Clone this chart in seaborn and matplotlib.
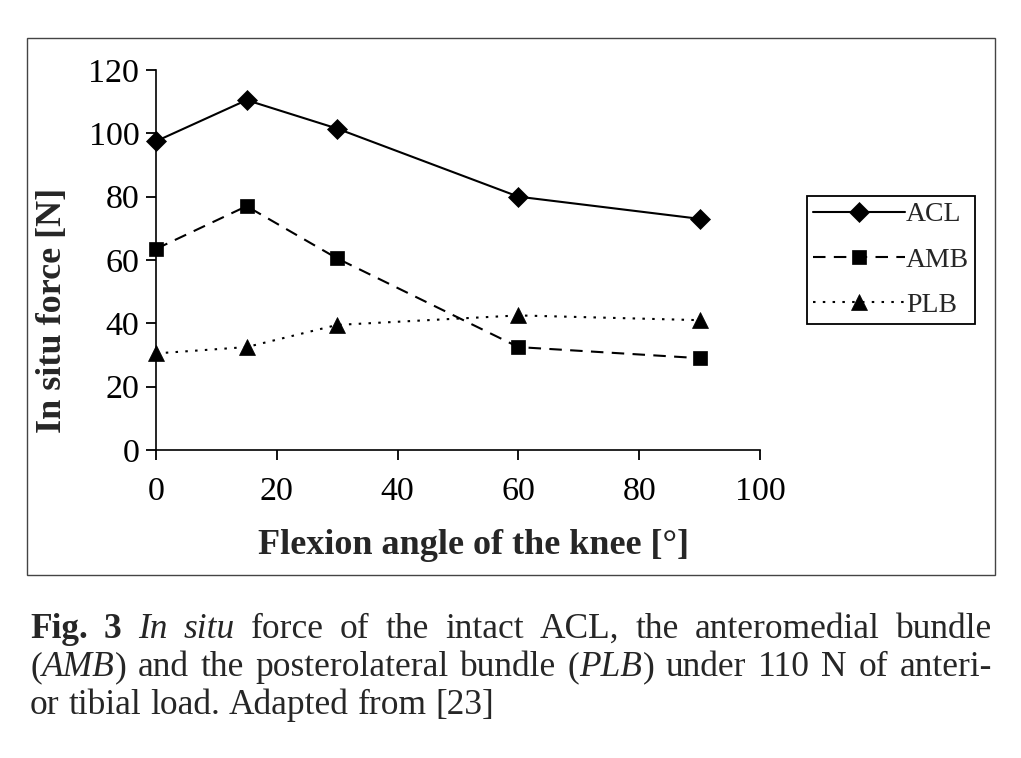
import numpy as np
import pandas as pd
import matplotlib
matplotlib.use("Agg")
import matplotlib.pyplot as plt
import seaborn as sns
from matplotlib.patches import Rectangle

# valeurs
angles = [0, 15, 30, 60, 90]
acl_force = [97.5, 110.5, 101.5, 80, 73]
amb_force = [63.5, 77, 60.5, 32.5, 29]
plb_force = [30.5, 32.5, 39.5, 42.5, 41]

bundles = ["ACL", "AMB", "PLB"]
y_ticks = [0, 20, 40, 60, 80, 100, 120]
x_ticks = [0, 20, 40, 60, 80, 100]

caption_lines = [
    [[("Fig.", "bold")], [("3", "bold")], [("In", "italic")], [("situ", "italic")],
     [("force", "normal")], [("of", "normal")], [("the", "normal")], [("intact", "normal")],
     [("ACL,", "normal")], [("the", "normal")], [("anteromedial", "normal")], [("bundle", "normal")]],
    [[("(", "normal"), ("AMB", "italic"), (")", "normal")], [("and", "normal")], [("the", "normal")],
     [("posterolateral", "normal")], [("bundle", "normal")],
     [("(", "normal"), ("PLB", "italic"), (")", "normal")], [("under", "normal")], [("110", "normal")],
     [("N", "normal")], [("of", "normal")], [("anteri-", "normal")]],
    [[("or", "normal")], [("tibial", "normal")], [("load.", "normal")], [("Adapted", "normal")],
     [("from", "normal")], [("[23]", "normal")]],
]

df = pd.DataFrame({
    "angle": angles * 3,
    "force": acl_force + amb_force + plb_force,
    "bundle": np.repeat(bundles, len(angles)),
})

sns.set_style("ticks")
plt.rcParams["font.family"] = ["Liberation Serif", "DejaVu Serif"]
plt.rcParams["axes.edgecolor"] = "black"
plt.rcParams["axes.linewidth"] = 1.2

W, H = 1021, 758
fig = plt.figure(figsize=(W / 100, H / 100), dpi=100)
ax = fig.add_axes([156 / W, 1 - 450 / H, 604 / W, 380 / H])

styles = {
    "ACL": dict(marker="D", markersize=10.5, linestyle="-"),
    "AMB": dict(marker="s", markersize=10.5, linestyle=(0, (6, 4))),
    "PLB": dict(marker="^", markersize=12, linestyle=(0, (1.2, 3.5))),
}
for b in bundles:
    sub = df[df["bundle"] == b]
    sns.lineplot(data=sub, x="angle", y="force", ax=ax, color="black", linewidth=1.5,
                 markeredgecolor="black", markerfacecolor="black", markeredgewidth=0.5,
                 label=b, clip_on=False, **styles[b])

ax.set_xlim(0, 100)
ax.set_ylim(0, 120)
ax.set_xticks(x_ticks)
ax.set_yticks(y_ticks)
ax.tick_params(axis="both", direction="out", length=7, width=1.3, labelsize=24.5,
               colors="black")
ax.tick_params(axis="x", pad=12)
ax.tick_params(axis="y", pad=5)
sns.despine(ax=ax)

ax.set_xlabel("Flexion angle of the knee [°]", fontsize=26, fontweight="bold", va="center")
ax.xaxis.set_label_coords((473 - 156) / 604, -(545 - 450) / 380)
ax.set_ylabel("In situ force [N]", fontsize=26, fontweight="bold", va="center")
ax.yaxis.set_label_coords(-(156 - 53) / 604, (450 - 310) / 380)

handles, labels = ax.get_legend_handles_labels()
ax.legend(handles, labels, loc="center", bbox_to_anchor=(891 / W, 1 - 260 / H),
          bbox_transform=fig.transFigure, fontsize=20, frameon=True, fancybox=False,
          edgecolor="black", framealpha=1, handlelength=3.3, handletextpad=0.05,
          labelspacing=0.72, borderpad=0.22, borderaxespad=0)
ax.get_legend().get_frame().set_linewidth(1.3)

# cadre autour du graphique
fig.patches.append(Rectangle((27 / W, 1 - 575 / H), (995 - 27) / W, (575 - 38) / H,
                             transform=fig.transFigure, fill=False, edgecolor="#444444",
                             linewidth=1.0))

# légende de la figure, justifiée
renderer = fig.canvas.get_renderer()
cap_size = 25.5
left_px, right_px = 30, 992
baselines = [638, 676, 714]


def seg_width(txt, style):
    t = fig.text(0, 0, txt, fontsize=cap_size,
                 fontweight="bold" if style == "bold" else "normal",
                 fontstyle="italic" if style == "italic" else "normal")
    w = t.get_window_extent(renderer).width
    t.remove()
    return w


space_w = seg_width("a a", "normal") - seg_width("aa", "normal")
for i, line in enumerate(caption_lines):
    widths = [[seg_width(s, st) for s, st in tok] for tok in line]
    total = sum(sum(w) for w in widths)
    if i < len(caption_lines) - 1:
        gap = (right_px - left_px - total) / (len(line) - 1)
    else:
        gap = space_w
    x = left_px
    for tok, ws in zip(line, widths):
        for (s, st), w in zip(tok, ws):
            fig.text(x / W, 1 - baselines[i] / H, s, fontsize=cap_size, va="baseline",
                     ha="left", fontweight="bold" if st == "bold" else "normal",
                     fontstyle="italic" if st == "italic" else "normal")
            x += w
        x += gap

fig.savefig("out.png", dpi=100)
